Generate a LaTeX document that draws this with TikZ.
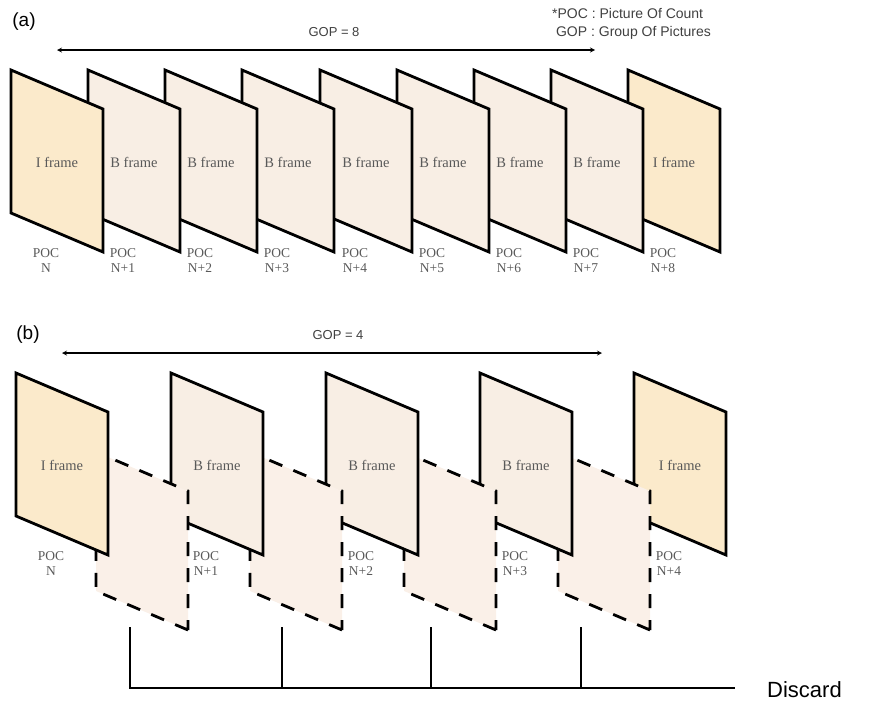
\documentclass[tikz,border=0pt]{standalone}
\usepackage{fontspec}
\setmainfont{Liberation Serif}
\newfontfamily\sansf{Liberation Sans}
\begin{document}
\begin{tikzpicture}[x=1pt,y=-1pt,
  frameline/.style={line width=2.8pt,line join=miter},
  dashline/.style={line width=2.8pt,dash pattern=on 14pt off 12pt},
  lbl/.style={text=black!65,font=\fontsize{14.5}{16}\selectfont,inner sep=0pt},
  poc/.style={text=black!65,font=\fontsize{13.5}{15}\selectfont,align=center,inner sep=0pt,anchor=north},
  hd/.style={font=\sansf\fontsize{19}{21}\selectfont,inner sep=0pt},
  gop/.style={font=\sansf\fontsize{13}{15}\selectfont,text=black!75,inner sep=0pt},
  arr/.style={line width=1.2pt,<->,>=stealth}]
\definecolor{ifill}{HTML}{FBEACB}
\definecolor{bfill}{HTML}{F8EEE4}
\definecolor{dfill}{HTML}{FAF0E8}
\useasboundingbox (0,0) rectangle (870,707);
\newcommand{\frm}[6]{% name, x, y, fill, text, poc
  \fill[#4] (#2,#3) -- ++(92,39) -- ++(0,143) -- ++(-92,-39) -- cycle;
  \draw[frameline] (#2,#3) -- ++(92,39) -- ++(0,143) -- ++(-92,-39) -- cycle;
  \node[lbl] (#1) at (#2+46,#3+92) {#5};
  \node[poc] (#1p) at (#2+35,#3+178) {POC\\#6};}
\newcommand{\dfrm}[3]{% name, x, y
  \fill[dfill] (#2,#3) -- ++(92,39) -- ++(0,139) -- ++(-92,-39) -- cycle;
  \draw[dashline] (#2+92,#3+178) -- ++(-92,-39) -- ++(0,-139) -- ++(92,39) -- cycle;
  \coordinate (#1) at (#2+35,#3+175);}
% (a)
\node[hd] (la) at (24,22) {(a)};
\frm{a8}{628}{70}{ifill}{I frame}{N+8}
\frm{a7}{551}{70}{bfill}{B frame}{N+7}
\frm{a6}{474}{70}{bfill}{B frame}{N+6}
\frm{a5}{397}{70}{bfill}{B frame}{N+5}
\frm{a4}{320}{70}{bfill}{B frame}{N+4}
\frm{a3}{242}{70}{bfill}{B frame}{N+3}
\frm{a2}{165}{70}{bfill}{B frame}{N+2}
\frm{a1}{88}{70}{bfill}{B frame}{N+1}
\frm{a0}{11}{70}{ifill}{I frame}{N}
\coordinate (ga1) at (57,50); \coordinate (ga2) at (595,50);
\draw[arr] (ga1) -- (ga2);
\node[gop] (gopa) at (334,32) {GOP = 8};
\node[gop,anchor=west,align=left,font=\sansf\fontsize{14}{18}\selectfont] (leg) at (552,24) {*POC : Picture Of Count\\\ GOP : Group Of Pictures};
% (b)
\node[hd] (lb) at (28,335) {(b)};
\frm{b4}{634}{373}{ifill}{I frame}{N+4}
\dfrm{d3}{558}{452}
\frm{b3}{480}{373}{bfill}{B frame}{N+3}
\dfrm{d2}{404}{452}
\frm{b2}{326}{373}{bfill}{B frame}{N+2}
\dfrm{d1}{250}{452}
\frm{b1}{171}{373}{bfill}{B frame}{N+1}
\dfrm{d0}{96}{452}
\frm{b0}{16}{373}{ifill}{I frame}{N}
\coordinate (gb1) at (62,353); \coordinate (gb2) at (602,353);
\draw[arr] (gb1) -- (gb2);
\node[gop] (gopb) at (338,335) {GOP = 4};
% discard
\node[font=\sansf\fontsize{22}{24}\selectfont,inner sep=0pt,anchor=west] (disc) at (767,690) {Discard};
\coordinate (t0) at (130,627); \coordinate (t1) at (282,627);
\coordinate (t2) at (431,627); \coordinate (t3) at (581,627);
\coordinate (e) at (735,688);
\draw[line width=2.8pt] (t0) -- (t0|-e) -- (e);
\draw[line width=2.8pt] (t1) -- (t1|-e);
\draw[line width=2.8pt] (t2) -- (t2|-e);
\draw[line width=2.8pt] (t3) -- (t3|-e);
\end{tikzpicture}
\end{document}
